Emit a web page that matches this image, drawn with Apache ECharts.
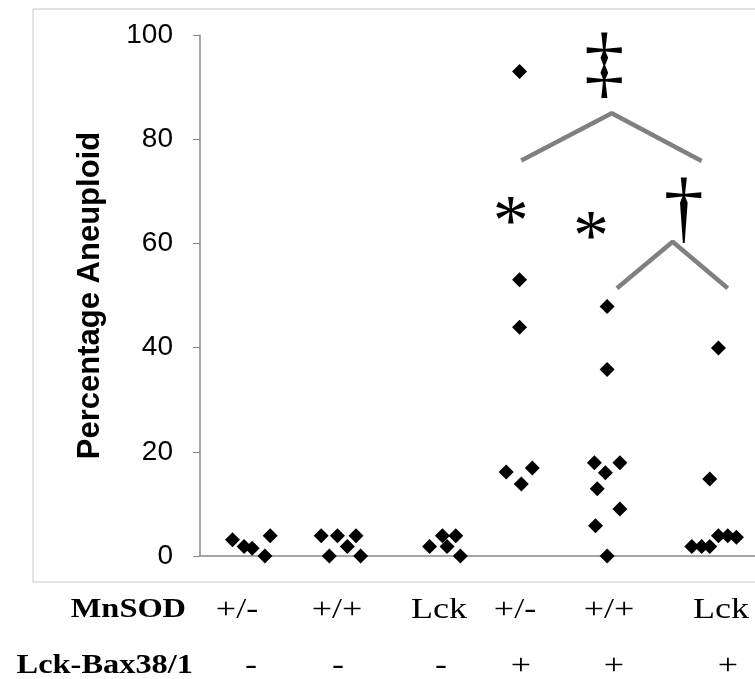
<!DOCTYPE html>
<html>
<head>
<meta charset="utf-8">
<script src="https://cdn.jsdelivr.net/npm/echarts@6/dist/echarts.min.js"></script>
<style>
  html, body { margin: 0; padding: 0; background: #fff; }
  #chart { width: 755px; height: 679px; }
</style>
</head>
<body>
<div id="chart"></div>
<script>
// points: [x position along the axis, percentage aneuploid]
const hetNoBax = [[5.6, 3.1], [7.6, 1.8], [9.0, 1.5], [11.2, 0], [12.1, 3.9]]
const wtNoBax = [[20.9, 3.9], [22.3, 0], [23.7, 3.9], [25.4, 1.8], [26.9, 3.9], [27.7, 0]]
const lckNoBax = [[39.6, 1.8], [41.8, 3.9], [42.6, 1.8], [44.1, 3.9], [44.9, 0]]
const hetBax = [[55.1, 93], [55.1, 53], [55.1, 43.9], [52.8, 16.1], [55.4, 13.8], [57.3, 16.9]]
const wtBax = [[70.2, 47.9], [70.2, 35.8], [68.0, 17.9], [72.4, 17.9], [69.9, 16.0], [68.5, 12.9], [72.4, 9.0], [68.2, 5.8], [70.2, 0]]
const lckBax = [[89.4, 39.9], [87.9, 14.8], [84.8, 1.8], [86.5, 1.8], [87.9, 1.8], [89.4, 3.9], [91.0, 3.9], [92.5, 3.6]]

const bigBracket = [[55.4, 75.9], [71.0, 85], [86.5, 75.8]]
const smallBracket = [[71.9, 51.4], [81.5, 60.3], [91.0, 51.4]]
const daggers = [
  { value: [69.7, 93.7], name: '‡' },
  { value: [83.4, 65.8], name: '†' }
]
const stars = [
  { value: [53.6, 63.6], name: '*' },
  { value: [67.4, 60.6], name: '*' }
]

const yTicks = [0, 20, 40, 60, 80, 100]
const mnsodLabels = ['+/-', '+/+', 'Lck', '+/-', '+/+', 'Lck']
const mnsodX = [237, 337, 439, 515, 609, 721]
const baxLabels = ['-', '-', '-', '+', '+', '+']
const baxX = [251, 338, 441, 521, 614, 728]

const chart = echarts.init(document.getElementById('chart'))

const diamond = (data) => ({
  type: 'scatter',
  symbol: 'diamond',
  symbolSize: 15,
  itemStyle: { color: '#000', opacity: 1 },
  data: data,
  z: 3
})

const bracket = (data) => ({
  type: 'line',
  data: data,
  symbol: 'none',
  lineStyle: { color: '#808080', width: 4.5 },
  z: 2
})

const glyphs = (data, size) => ({
  type: 'scatter',
  symbolSize: 0,
  itemStyle: { opacity: 1 },
  data: data,
  label: {
    show: true,
    position: 'inside',
    formatter: (p) => p.name,
    fontFamily: 'Liberation Serif',
    fontSize: size,
    color: '#000',
    opacity: 1
  },
  z: 4
})

const graphic = [
  {
    type: 'rect',
    shape: { x: 33, y: 9, width: 760, height: 573 },
    style: { fill: 'none', stroke: '#c8c8c8', lineWidth: 1 },
    silent: true
  },
  {
    type: 'text', x: 186, y: 610, scaleX: 1.2,
    style: { text: 'MnSOD', font: 'bold 27px "Liberation Serif"', fill: '#000', align: 'right', verticalAlign: 'middle' }
  },
  {
    type: 'text', x: 193, y: 666, scaleX: 1.2,
    style: { text: 'Lck-Bax38/1', font: 'bold 27px "Liberation Serif"', fill: '#000', align: 'right', verticalAlign: 'middle' }
  }
]
mnsodLabels.forEach((t, i) => {
  graphic.push({
    type: 'text', x: mnsodX[i], y: 610, scaleX: 1.2,
    style: { text: t, font: '30px "Liberation Serif"', fill: '#000', align: 'center', verticalAlign: 'middle' }
  })
})
baxLabels.forEach((t, i) => {
  graphic.push({
    type: 'text', x: baxX[i], y: 666, scaleX: 1.2,
    style: { text: t, font: '30px "Liberation Serif"', fill: '#000', align: 'center', verticalAlign: 'middle' }
  })
})

const options = {
  animation: false,
  grid: { left: 200, right: 0, top: 35, bottom: 123 },
  xAxis: {
    type: 'value',
    min: 0,
    max: 95.7,
    axisLine: { show: true, lineStyle: { color: '#888', width: 1.5 } },
    axisTick: { show: false },
    axisLabel: { show: false },
    splitLine: { show: false }
  },
  yAxis: {
    type: 'value',
    min: yTicks[0],
    max: yTicks[yTicks.length - 1],
    interval: 20,
    name: 'Percentage Aneuploid',
    nameLocation: 'middle',
    nameGap: 94,
    nameTextStyle: { fontFamily: 'Liberation Sans', fontWeight: 'bold', fontSize: 31, color: '#000' },
    axisLine: { show: true, lineStyle: { color: '#888', width: 1.5 } },
    axisTick: { show: true, length: 7, lineStyle: { color: '#888' } },
    axisLabel: { fontFamily: 'Liberation Sans', fontSize: 28, color: '#000', margin: 27 },
    splitLine: { show: false }
  },
  graphic: graphic,
  series: [
    diamond(hetNoBax),
    diamond(wtNoBax),
    diamond(lckNoBax),
    diamond(hetBax),
    diamond(wtBax),
    diamond(lckBax),
    bracket(bigBracket),
    bracket(smallBracket),
    glyphs(daggers, 80),
    glyphs(stars, 72)
  ]
}

chart.setOption(options)
</script>
</body>
</html>
